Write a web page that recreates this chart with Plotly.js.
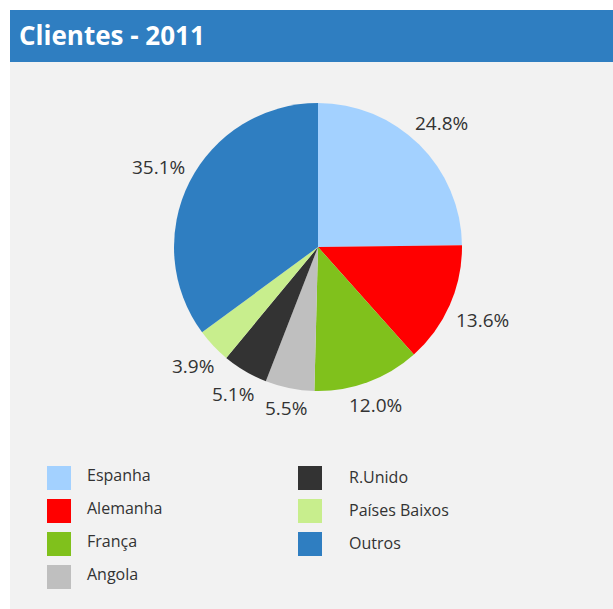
<!DOCTYPE html>
<html>
<head>
<meta charset="utf-8">
<script src="https://cdn.plot.ly/plotly-3.0.1.min.js"></script>
<style>html,body{margin:0;padding:0;background:#fff;}#chart{width:613px;height:609px;}</style>
</head>
<body>
<div id="chart"></div>
<script>
const categories = ["Espanha", "Alemanha", "França", "Angola", "R.Unido", "Países Baixos", "Outros"];
const shares = [24.8, 13.6, 12.0, 5.5, 5.1, 3.9, 35.1];
const colors = ["#A3D1FF", "#FF0000", "#80C11C", "#BFBFBF", "#333333", "#C8EE8D", "#2F7EC1"];
const titleText = "Clientes - 2011";

const W = 613, H = 609;
const px = x => x / W;
const py = y => 1 - y / H;

const cx = 318, cy = 247, R = 144;
const labelFont = {family: "Open Sans", size: 19, color: "#333333"};

const shapes = [
  {type: "rect", xref: "paper", yref: "paper", x0: px(10), x1: px(W), y0: py(62), y1: py(H),
   fillcolor: "#F2F2F2", line: {width: 0}, layer: "below"},
  {type: "rect", xref: "paper", yref: "paper", x0: px(10), x1: px(W), y0: py(10), y1: py(62),
   fillcolor: "#2F7EC1", line: {width: 0}, layer: "below"}
];
const annotations = [];

// legend (column-major, 4 rows per column)
const colSquareX = [47, 298];
const colTextX = [85, 347];
const colTextDy = [-3, -1];
categories.forEach((c, i) => {
  const col = Math.floor(i / 4), row = i % 4;
  const y0 = 466 + row * 33;
  shapes.push({type: "rect", xref: "paper", yref: "paper",
    x0: px(colSquareX[col]), x1: px(colSquareX[col] + 24), y0: py(y0), y1: py(y0 + 24),
    fillcolor: colors[i], line: {width: 0}});
  annotations.push({xref: "paper", yref: "paper", x: px(colTextX[col]), y: py(y0 + 12 + colTextDy[col]),
    xanchor: "left", yanchor: "middle", showarrow: false, text: c,
    font: {family: "Open Sans", size: 16, color: "#333333"}});
});

// percentage labels placed just outside each slice, along the slice's mid-angle
const ctx = document.createElement("canvas").getContext("2d");
ctx.font = labelFont.size + "px '" + labelFont.family + "'";
const total = shares.reduce((a, b) => a + b, 0);
let cum = 0;
shares.forEach((v, i) => {
  const mid = (cum + v / 2) / total;
  cum += v;
  const th = 2 * Math.PI * mid;
  const sx = Math.sin(th), sy = -Math.cos(th);
  const txt = v.toFixed(1) + "%";
  const w = ctx.measureText(txt).width;
  const d = R + 8 + Math.abs(sx) * w / 2 + Math.abs(sy) * 7;
  annotations.push({xref: "paper", yref: "paper", x: px(cx + sx * d), y: py(cy + sy * d + 1),
    xanchor: "center", yanchor: "middle", showarrow: false, text: txt, font: labelFont});
});

const data = [{
  type: "pie",
  labels: categories,
  values: shares,
  sort: false,
  direction: "clockwise",
  rotation: 0,
  marker: {colors: colors, line: {width: 0}},
  textinfo: "none",
  hoverinfo: "label+percent",
  showlegend: false,
  domain: {x: [px(cx - R), px(cx + R)], y: [py(cy + R), py(cy - R)]}
}];

const layout = {
  width: W, height: H,
  margin: {l: 0, r: 0, t: 0, b: 0},
  paper_bgcolor: "#FFFFFF",
  plot_bgcolor: "rgba(0,0,0,0)",
  showlegend: false,
  title: {text: titleText, x: px(19), xanchor: "left", xref: "paper", y: py(36), yanchor: "middle", yref: "paper",
    font: {family: "Open Sans", size: 26, color: "#FFFFFF", weight: 700}},
  shapes: shapes,
  annotations: annotations
};

Plotly.newPlot("chart", data, layout, {displayModeBar: false, staticPlot: true});
</script>
</body>
</html>
